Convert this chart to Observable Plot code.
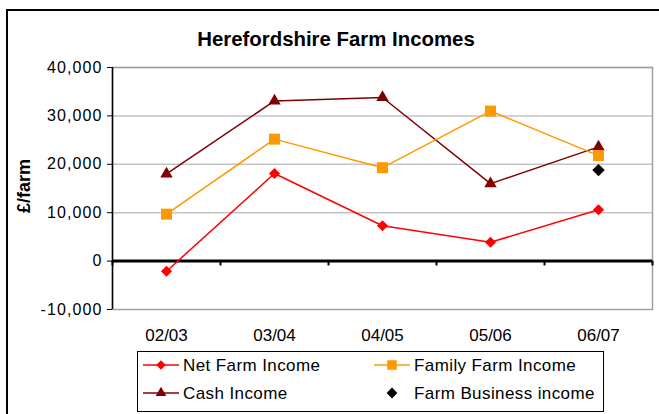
<!DOCTYPE html>
<html><head><meta charset="utf-8">
<script src="https://cdn.jsdelivr.net/npm/d3@7"></script>
<script src="https://cdn.jsdelivr.net/npm/@observablehq/plot@0.6"></script>
<style>
html,body{margin:0;padding:0;background:#fff;}
#chart{width:659px;height:414px;overflow:hidden;position:relative;}
#chart svg{font-family:"Liberation Sans", Arial, sans-serif;}
</style></head><body><div id="chart"></div>
<script>
const chartTitle = "Herefordshire Farm Incomes";
const yLabel = "£/farm";
const categories = ["02/03", "03/04", "04/05", "05/06", "06/07"];
const netFarmIncome = [-2100, 18100, 7300, 3900, 10600];
const familyFarmIncome = [9700, 25200, 19300, 31000, 21800];
const cashIncome = [18000, 33100, 33800, 16000, 23600];
const farmBusinessIncome = [null, null, null, null, 18800];
const yTicks = [-10000, 0, 10000, 20000, 30000, 40000];
const yTickLabels = ["-10,000", "0", "10,000", "20,000", "30,000", "40,000"];
const seriesNames = ["Net Farm Income", "Family Farm Income", "Cash Income", "Farm Business income"];
const seriesColors = ["#ff0000", "#ff9900", "#800000", "#000000"];
const seriesSymbols = ["diamond2", "square", "triangle", "diamond2"];
const seriesR = [5, 6.2, 4.6, 5.6];
const seriesHasLine = [true, true, true, false];

const seriesValues = [netFarmIncome, familyFarmIncome, cashIncome, farmBusinessIncome];
const xPos = categories.map((c, i) => i + 0.5);
const boundaries = d3.range(categories.length + 1);

function rowsFor(k) {
  return categories.map((c, i) => ({cat: c, x: xPos[i], value: seriesValues[k][i]}))
    .filter(d => d.value != null);
}

const drawOrder = [0, 2, 1, 3];
const seriesMarks = [];
for (const k of drawOrder) {
  const rows = rowsFor(k);
  if (seriesHasLine[k]) seriesMarks.push(Plot.line(rows, {x: "x", y: "value", stroke: seriesColors[k], strokeWidth: 1.5}));
}
for (const k of drawOrder) {
  const rows = rowsFor(k);
  seriesMarks.push(Plot.dot(rows, {x: "x", y: "value", symbol: () => seriesSymbols[k], r: seriesR[k], fill: seriesColors[k], stroke: "none"}));
}

const svg = Plot.plot({
  width: 659,
  height: 414,
  marginLeft: 112,
  marginRight: 7,
  marginTop: 67,
  marginBottom: 105,
  style: {background: "#fff", color: "#000", fontFamily: "'Liberation Sans', Arial, sans-serif"},
  x: {type: "linear", domain: [0, categories.length], axis: null},
  y: {type: "linear", domain: [yTicks[0], yTicks[yTicks.length - 1]], axis: null},
  symbol: {type: "identity"},
  marks: [
    Plot.ruleY(yTicks.filter(d => d > 0), {stroke: "#c4c4c4", strokeWidth: 1.5}),
    Plot.frame({stroke: "#a0a0a0", strokeWidth: 1.5}),
    Plot.ruleX([0], {stroke: "#000", strokeWidth: 1.5}),
    Plot.ruleY([0], {stroke: "#000", strokeWidth: 3}),
    Plot.ruleX(boundaries, {y1: 0, y2: -1000, stroke: "#000", strokeWidth: 2}),
    Plot.axisY(yTicks, {tickFormat: d => yTickLabels[yTicks.indexOf(d)], tickSize: 5, tickPadding: 5, fontSize: 16, label: null}),
    Plot.axisX(xPos, {tickFormat: d => categories[xPos.indexOf(d)], tickSize: 0, tickPadding: 19, fontSize: 17, label: null}),
    ...seriesMarks
  ]
});

const s = d3.select(svg);
s.selectAll("g[aria-label='y-axis tick label'] text").attr("letter-spacing", "1.1px");
// outer chart border
s.append("rect").attr("x", 7).attr("y", 10).attr("width", 700).attr("height", 500)
  .attr("fill", "none").attr("stroke", "#000").attr("stroke-width", 2);
// title
s.append("text").attr("x", 336).attr("y", 46).attr("text-anchor", "middle")
  .attr("font-size", 20.4).attr("font-weight", "bold").attr("fill", "#000").text(chartTitle);
// y label
s.append("text").attr("transform", "translate(30,186) rotate(-90)").attr("text-anchor", "middle")
  .attr("font-size", 18).attr("font-weight", "bold").attr("fill", "#000").text(yLabel);
// legend
const lg = s.append("g").attr("text-anchor", "start");
lg.append("rect").attr("x", 137.5).attr("y", 351.5).attr("width", 466).attr("height", 60)
  .attr("fill", "#fff").attr("stroke", "#000").attr("stroke-width", 1);
const legendPos = [[143, 365], [374, 365], [143, 393], [374, 393]];
const symbolMap = {diamond2: d3.symbolDiamond2, square: d3.symbolSquare, triangle: d3.symbolTriangle};
seriesNames.forEach((name, k) => {
  const [lx, ly] = legendPos[k];
  if (seriesHasLine[k]) {
    lg.append("line").attr("x1", lx).attr("x2", lx + 36).attr("y1", ly).attr("y2", ly)
      .attr("stroke", seriesColors[k]).attr("stroke-width", 1.5);
  }
  lg.append("path").attr("transform", `translate(${lx + 18},${ly})`)
    .attr("d", d3.symbol(symbolMap[seriesSymbols[k]], Math.PI * seriesR[k] * seriesR[k] * 0.75)())
    .attr("fill", seriesColors[k]);
  lg.append("text").attr("x", lx + 40).attr("y", ly + 6).attr("text-anchor", "start")
    .attr("font-size", 17).attr("letter-spacing", "0.4px").attr("fill", "#000").text(name);
});

document.getElementById("chart").appendChild(svg);
</script></body></html>
